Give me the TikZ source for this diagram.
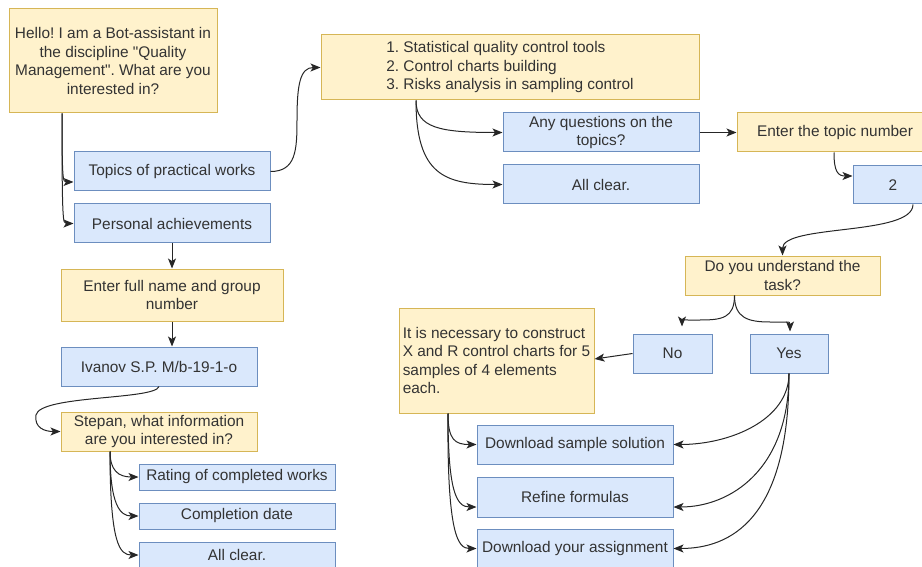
\documentclass[tikz,border=0pt]{standalone}
\usepackage{fontspec}
\setmainfont{Liberation Sans}[Ligatures=TeXOff]
\usetikzlibrary{arrows.meta}
\definecolor{yfill}{HTML}{FFF2CC}
\definecolor{ydraw}{HTML}{D6B656}
\definecolor{bfill}{HTML}{DAE8FC}
\definecolor{bdraw}{HTML}{6C8EBF}
\definecolor{txt}{HTML}{333333}
\frenchspacing
\tikzset{
  every node/.style={font=\frenchspacing\fontsize{15.4}{18.5}\selectfont, text=txt, inner sep=1pt, align=center},
  yelbox/.style={draw=ydraw, fill=yfill, line width=1pt, rectangle},
  bluebox/.style={draw=bdraw, fill=bfill, line width=1pt, rectangle},
  arr/.style={-{Stealth[length=10pt,width=8pt,inset=2.5pt]}, line width=1pt, draw=black!85}
}
\begin{document}
\begin{tikzpicture}[x=1pt,y=-1pt]
\useasboundingbox (0,0) rectangle (922,567);
% nodes
\node[yelbox, minimum width=208pt, minimum height=104pt] (hello) at (113,61)
  {Hello! I am a Bot-assistant in\\the discipline "Quality\\Management". What are you\\interested in?};
\node[bluebox, minimum width=196pt, minimum height=39pt] (topics) at (172,171.5) {Topics of practical works};
\node[bluebox, minimum width=196pt, minimum height=39pt] (personal) at (172,223.5) {Personal achievements};
\node[yelbox, minimum width=222pt, minimum height=52pt] (enter) at (172,295) {Enter full name and group\\number};
\node[bluebox, minimum width=196pt, minimum height=39pt] (ivanov) at (159,366.5) {Ivanov S.P. M/b-19-1-o};
\node[yelbox, minimum width=196pt, minimum height=39pt] (stepan) at (159,431.5) {Stepan, what information\\are you interested in?};
\node[bluebox, minimum width=196pt, minimum height=26pt] (rating) at (237,477) {Rating of completed works};
\node[bluebox, minimum width=196pt, minimum height=26pt] (completion) at (237,516) {Completion date};
\node[bluebox, minimum width=196pt, minimum height=26pt] (allclearL) at (237,555) {All clear.};
\node[yelbox, minimum width=378pt, minimum height=65pt, align=left] (list) at (510,67.5)
  {1. Statistical quality control tools\\2. Control charts building\\3. Risks analysis in sampling control};
\node[bluebox, minimum width=196pt, minimum height=39pt] (anyq) at (601,132.5) {Any questions on the\\topics?};
\node[bluebox, minimum width=196pt, minimum height=39pt] (allclearR) at (601,184.5) {All clear.};
\node[yelbox, minimum width=196pt, minimum height=39pt] (topicnum) at (835,132.5) {Enter the topic number};
\node[bluebox, minimum width=80pt, minimum height=38pt] (two) at (893,185) {2};
\node[yelbox, minimum width=195pt, minimum height=39pt] (understand) at (782.5,275.5) {Do you understand the\\task?};
\node[bluebox, minimum width=79pt, minimum height=39pt] (no) at (672.5,353.5) {No};
\node[bluebox, minimum width=78pt, minimum height=39pt] (yes) at (789,353.5) {Yes};
\node[yelbox, minimum width=195pt, minimum height=105pt, align=left] (necessary) at (496.5,360.5)
  {It is necessary to construct\\X and R control charts for 5\\samples of 4 elements\\each.};
\node[bluebox, minimum width=196pt, minimum height=39pt] (sample) at (575,444.5) {Download sample solution};
\node[bluebox, minimum width=196pt, minimum height=40pt] (refine) at (575,497) {Refine formulas};
\node[bluebox, minimum width=196pt, minimum height=39pt] (assign) at (575,548.5) {Download your assignment};
% connectors
\draw[arr] ([xshift=-51pt]hello.south) .. controls (62,182) and (63,182) .. ([yshift=-10.5pt]topics.west);
\draw[arr] ([xshift=-51pt]hello.south) .. controls (62,223.5) and (63,223.5) .. (personal.west);
\draw[arr] (topics.east) .. controls (296,171.5) and (297,150) .. (297,120) .. controls (297,85) and (300,67.5) .. (list.west);
\draw[arr] (personal.south) -- (enter.north);
\draw[arr] (enter.south) -- (enter.south |- ivanov.north);
\draw[arr] (ivanov.south) .. controls (155,400) and (40,395) .. (36,415) .. controls (34,428) and (45,431.5) .. (stepan.west);
\draw[arr] ([xshift=-49pt]stepan.south) .. controls (110,470) and (118,477) .. (rating.west);
\draw[arr] ([xshift=-49pt]stepan.south) .. controls (110,505) and (120,516) .. (completion.west);
\draw[arr] ([xshift=-49pt]stepan.south) .. controls (110,545) and (120,555) .. (allclearL.west);
\draw[arr] ([xshift=-94pt]list.south) .. controls (416,128) and (440,132.5) .. (anyq.west);
\draw[arr] ([xshift=-94pt]list.south) .. controls (416,175) and (445,184.5) .. (allclearR.west);
\draw[arr] (anyq.east) -- (topicnum.west);
\draw[arr] ([xshift=-1pt]topicnum.south) .. controls (834,172) and (838,176) .. ([yshift=9pt]two.west);
\draw[arr] ([xshift=20pt]two.south) .. controls (913,236) and (782.5,224) .. (understand.north);
\draw[arr] ([xshift=-48pt]understand.south) .. controls (734.5,318) and (722,320) .. (700,320) -- (688,320) .. controls (682,320) and (682,320) .. ([xshift=9.5pt,yshift=7pt]no.north);
\draw[arr] ([xshift=-48pt]understand.south) .. controls (734.5,318) and (748,322) .. (770,322) -- (784,322) .. controls (790,322) and (790,322) .. ([xshift=1pt,yshift=2pt]yes.north);
\draw[arr] (no.west) -- ([yshift=1.5pt]necessary.east);
\draw[arr] ([xshift=-48.5pt]necessary.south) .. controls (448,440) and (455,444.5) .. (sample.west);
\draw[arr] ([xshift=-48.5pt]necessary.south) .. controls (448,490) and (456,507) .. ([yshift=-10pt]refine.west);
\draw[arr] ([xshift=-48.5pt]necessary.south) .. controls (447,535) and (458,548.5) .. (assign.west);
\draw[arr] (yes.south) .. controls (789,420) and (730,444.5) .. (sample.east);
\draw[arr] (yes.south) .. controls (789,470) and (730,507) .. ([yshift=-10pt]refine.east);
\draw[arr] (yes.south) .. controls (789,520) and (730,548.5) .. (assign.east);
\end{tikzpicture}
\end{document}
